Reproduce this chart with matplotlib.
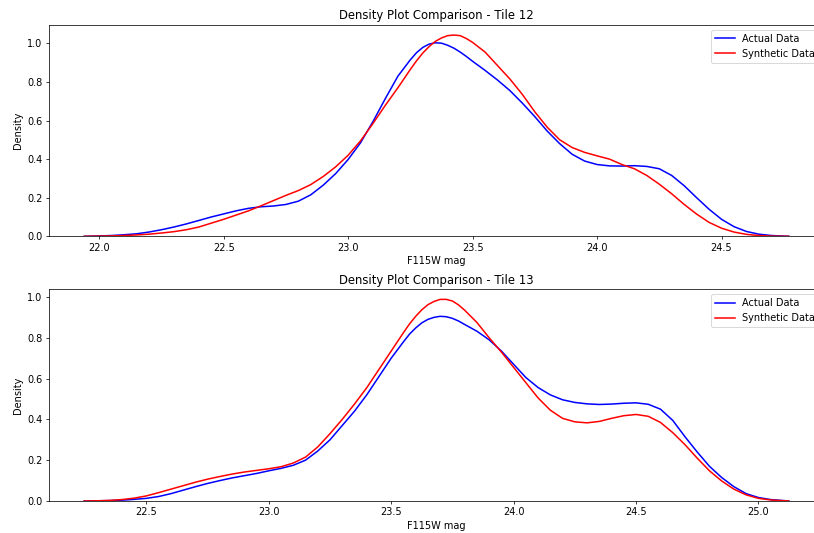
import matplotlib
matplotlib.use("Agg")
import matplotlib.pyplot as plt

# ---- Tile 12 ----
x12 = [21.94, 22.00, 22.05, 22.10, 22.15, 22.20, 22.25, 22.30, 22.35, 22.40, 22.45,
       22.50, 22.55, 22.60, 22.65, 22.70, 22.75, 22.80, 22.85, 22.90, 22.95,
       23.00, 23.05, 23.10, 23.15, 23.20, 23.25, 23.275, 23.30, 23.325, 23.35,
       23.375, 23.40, 23.425, 23.45, 23.475,
       23.50, 23.55, 23.60, 23.65, 23.70, 23.75, 23.80, 23.85, 23.90, 23.95,
       24.00, 24.05, 24.10, 24.15, 24.20, 24.25, 24.30, 24.35, 24.40, 24.45,
       24.50, 24.55, 24.60, 24.65, 24.70, 24.77]
actual12 = [0.000, 0.002, 0.004, 0.008, 0.013, 0.022, 0.034, 0.048, 0.064, 0.082, 0.100,
            0.116, 0.132, 0.145, 0.153, 0.157, 0.165, 0.182, 0.215, 0.265, 0.325,
            0.398, 0.485, 0.595, 0.715, 0.830, 0.915, 0.952, 0.979, 0.996, 1.003,
            1.001, 0.990, 0.975, 0.955, 0.932,
            0.907, 0.860, 0.810, 0.755, 0.690, 0.620, 0.545, 0.480, 0.425, 0.390,
            0.372, 0.365, 0.364, 0.366, 0.362, 0.350, 0.315, 0.262, 0.200, 0.140,
            0.088, 0.050, 0.025, 0.011, 0.004, 0.000]
synthetic12 = [0.000, 0.001, 0.002, 0.004, 0.007, 0.011, 0.017, 0.024, 0.034, 0.048, 0.068,
               0.088, 0.110, 0.132, 0.158, 0.185, 0.212, 0.237, 0.268, 0.310, 0.360,
               0.420, 0.495, 0.585, 0.680, 0.770, 0.865, 0.910, 0.950, 0.983, 1.010,
               1.028, 1.040, 1.043, 1.040, 1.025,
               1.005, 0.955, 0.885, 0.815, 0.735, 0.645, 0.565, 0.500, 0.460, 0.435,
               0.417, 0.400, 0.372, 0.350, 0.315, 0.270, 0.220, 0.165, 0.115, 0.072,
               0.042, 0.022, 0.010, 0.004, 0.001, 0.000]

# ---- Tile 13 ----
x13 = [22.246, 22.30, 22.35, 22.40, 22.45, 22.50, 22.55, 22.60, 22.65, 22.70, 22.75,
       22.80, 22.85, 22.90, 22.95, 23.00, 23.05, 23.10, 23.15, 23.20, 23.25,
       23.30, 23.35, 23.40, 23.45, 23.50, 23.55, 23.575, 23.60, 23.625, 23.65,
       23.675, 23.70, 23.725, 23.75, 23.775,
       23.80, 23.85, 23.90, 23.95, 24.00, 24.05, 24.10, 24.15, 24.20, 24.25,
       24.30, 24.35, 24.40, 24.45, 24.50, 24.55, 24.60, 24.65, 24.70, 24.75,
       24.80, 24.85, 24.90, 24.95, 25.00, 25.05, 25.124]
actual13 = [0.000, 0.001, 0.002, 0.004, 0.008, 0.013, 0.022, 0.036, 0.053, 0.070, 0.086,
            0.100, 0.113, 0.124, 0.135, 0.148, 0.160, 0.175, 0.200, 0.245, 0.300,
            0.370, 0.440, 0.520, 0.610, 0.700, 0.780, 0.818, 0.848, 0.873, 0.890,
            0.900, 0.905, 0.903, 0.895, 0.882,
            0.865, 0.832, 0.790, 0.735, 0.670, 0.605, 0.556, 0.520, 0.496, 0.483,
            0.476, 0.473, 0.475, 0.479, 0.481, 0.474, 0.450, 0.395, 0.315, 0.240,
            0.170, 0.115, 0.070, 0.036, 0.017, 0.007, 0.000]
synthetic13 = [0.000, 0.001, 0.003, 0.007, 0.014, 0.025, 0.041, 0.058, 0.075, 0.092, 0.107,
               0.120, 0.132, 0.142, 0.150, 0.158, 0.168, 0.186, 0.215, 0.265, 0.330,
               0.400, 0.475, 0.555, 0.645, 0.735, 0.825, 0.868, 0.905, 0.937, 0.962,
               0.978, 0.988, 0.988, 0.980, 0.961,
               0.935, 0.875, 0.800, 0.730, 0.655, 0.580, 0.505, 0.445, 0.405, 0.388,
               0.383, 0.390, 0.405, 0.418, 0.424, 0.415, 0.385, 0.335, 0.276, 0.210,
               0.148, 0.098, 0.058, 0.030, 0.013, 0.005, 0.000]

tiles = ["Tile 12", "Tile 13"]
xs = [x12, x13]
actuals = [actual12, actual13]
synthetics = [synthetic12, synthetic13]

plt.rcParams["font.size"] = 10.5

DPI = 200 / 3
fig = plt.figure(figsize=(814 / DPI, 533 / DPI), dpi=DPI)
W, H = 814, 533
boxes = [(49, 25, 824, 236.3), (49, 289.3, 824, 501)]

for (l, t, r, b), tile, x, a, s in zip(boxes, tiles, xs, actuals, synthetics):
    ax = fig.add_axes([l / W, 1 - b / H, (r - l) / W, (b - t) / H])
    ax.plot(x, a, color="blue", label="Actual Data", lw=1.65, solid_joinstyle="round")
    ax.plot(x, s, color="red", label="Synthetic Data", lw=1.65, solid_joinstyle="round")
    ax.set_ylim(bottom=0)
    ax.set_title(f"Density Plot Comparison - {tile}")
    ax.set_xlabel("F115W mag")
    ax.set_ylabel("Density")
    ax.legend(loc="upper right")

fig.savefig("out.png", dpi=DPI)
